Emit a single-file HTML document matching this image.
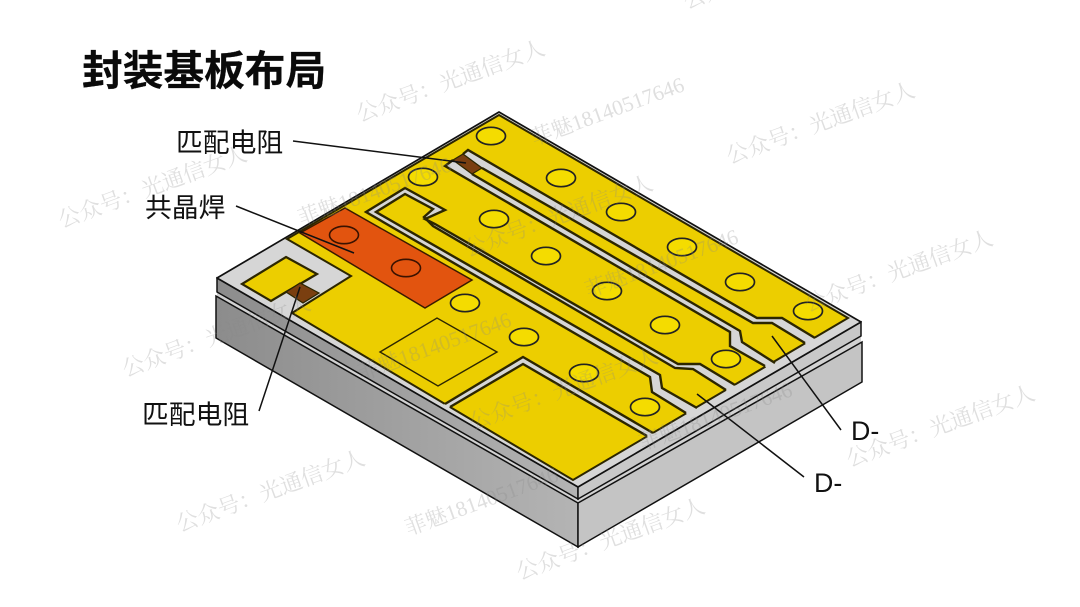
<!DOCTYPE html>
<html lang="zh">
<head>
<meta charset="utf-8">
<style>
html,body{margin:0;padding:0;background:#fff;width:1080px;height:607px;overflow:hidden}
svg{display:block;filter:blur(.35px)}
.lb{font-family:"Liberation Sans","Noto Sans CJK SC",sans-serif;font-size:26.8px;fill:#111}
.wm{font-family:"Liberation Serif","Noto Serif CJK SC",serif;fill:#8a8a8a;fill-opacity:.27;text-anchor:middle}
.c{fill:#f4dc00;stroke:#222;stroke-width:1.7}
.s{fill:none;stroke:#2c2600;stroke-width:2.4;stroke-linejoin:miter}
.g{fill:#d6d6d6;stroke:none}
.l{stroke:#111;stroke-width:1.5;fill:none}
</style>
</head>
<body>
<svg width="1080" height="607" viewBox="0 0 1080 607" xmlns="http://www.w3.org/2000/svg">
<defs>
<linearGradient id="lf" x1="216" y1="0" x2="578" y2="0" gradientUnits="userSpaceOnUse">
<stop offset="0" stop-color="#8c8c8c"/><stop offset="1" stop-color="#b4b4b4"/>
</linearGradient>
</defs>

<!-- gap between layers -->
<polygon points="217,290 578,497 861,334 861,344 578,505 217,298" fill="#d2d2d2"/>
<!-- lower block -->
<polygon points="216,296 578,503 578,547 216,338" fill="url(#lf)" stroke="#111" stroke-width="1.5"/>
<polygon points="578,503 862,342 862,382 578,547" fill="#c4c4c4" stroke="#111" stroke-width="1.5"/>
<!-- upper plate sides -->
<polygon points="217,278 578,487 578,499 217,292" fill="url(#lf)" stroke="#111" stroke-width="1.5"/>
<polygon points="578,487 861,322 861,336 578,499" fill="#c8c8c8" stroke="#111" stroke-width="1.5"/>
<!-- plate top -->
<polygon points="217,278 499,112 861,322 578,487" fill="#d6d6d6" stroke="#111" stroke-width="1.7" stroke-linejoin="round"/>

<!-- small pad -->
<polygon points="286,257 317,274 300,284 286,292 271,301 242,284" fill="#ecce00" stroke="#2c2600" stroke-width="2.2"/>
<polygon points="286,292 300,283 319,293 303,303" fill="#7a3f10" stroke="#2c2600" stroke-width="1.2"/>

<!-- gold -->
<polygon points="287,239 499,115 848,318 573,480 450,407 445,404 292,313 351,276" fill="#ecce00" stroke="#2c2600" stroke-width="2"/>

<!-- slot 1 -->
<polygon class="g" points="468,150 757,318 782,318 815,338 817,341 807,346 805,343 772,323 753,323 482,168 463,154"/>
<path class="s" d="M463,154 L468,150 L757,318 L782,318 L815,338"/>
<path class="s" d="M482,168 L753,323 L772,323 L805,343"/>
<!-- slot 1b -->
<polygon class="g" points="445,166 453,160 472,174 740,331 742,342 775,363 767,369 765,366 730,346 730,332"/>
<path class="s" d="M453,160 L445,166 L730,332 L730,346 L765,366"/>
<path class="s" d="M472,174 L740,331 L742,342 L775,363"/>
<!-- resistor -->
<polygon points="453,160 463,154 482,168 472,174" fill="#7a3f10" stroke="#2c2600" stroke-width="1.2"/>

<!-- slot 2 ring -->
<polygon class="g" points="366,212 405,188 445,210 425,219 435,224 678,364 700,364 735,385 737,388 728,393 726,390 693,369 675,368 433,226 424,217 433,209 405,194 376,212 660,375 662,388 697,408 699,411 688,416 686,413 652,392 650,377"/>
<path class="s" d="M686,413 L652,392 L650,377 L366,212 L405,188 L445,210 L425,219 L435,224 L678,364 L700,364 L735,385"/>
<path class="s" d="M726,390 L693,369 L675,368 L433,226 L424,217 L433,209 L405,194 L376,212 L660,375 L662,388 L697,408"/>

<!-- slot 3 around pad -->
<polygon class="g" points="445,404 523,357 653,433 655,436 649,439 647,436 523,364 450,407 447,409 442,406"/>
<path class="s" d="M445,404 L523,357 L653,433"/>
<path class="s" d="M450,407 L523,364 L647,436"/>

<!-- orange -->
<polygon points="345,208 472,280 425,308 300,233" fill="#e2540f" stroke="#3a1a00" stroke-width="1.5"/>
<ellipse cx="344" cy="235" rx="14.5" ry="8.7" fill="none" stroke="#3a1200" stroke-width="1.6"/>
<ellipse cx="406" cy="268" rx="14.5" ry="8.7" fill="none" stroke="#3a1200" stroke-width="1.6"/>

<!-- square -->
<polygon points="380,352 437,318 497,352 438,386" fill="#ecce00" stroke="#2c2600" stroke-width="1.4"/>

<!-- circles -->
<ellipse class="c" cx="491" cy="136" rx="14.5" ry="8.7"/>
<ellipse class="c" cx="561" cy="178" rx="14.5" ry="8.7"/>
<ellipse class="c" cx="621" cy="212" rx="14.5" ry="8.7"/>
<ellipse class="c" cx="682" cy="247" rx="14.5" ry="8.7"/>
<ellipse class="c" cx="740" cy="282" rx="14.5" ry="8.7"/>
<ellipse class="c" cx="808" cy="311" rx="14.5" ry="8.7"/>
<ellipse class="c" cx="423" cy="177" rx="14.5" ry="8.7"/>
<ellipse class="c" cx="494" cy="219" rx="14.5" ry="8.7"/>
<ellipse class="c" cx="546" cy="256" rx="14.5" ry="8.7"/>
<ellipse class="c" cx="607" cy="291" rx="14.5" ry="8.7"/>
<ellipse class="c" cx="665" cy="325" rx="14.5" ry="8.7"/>
<ellipse class="c" cx="726" cy="359" rx="14.5" ry="8.7"/>
<ellipse class="c" cx="465" cy="303" rx="14.5" ry="8.7"/>
<ellipse class="c" cx="524" cy="337" rx="14.5" ry="8.7"/>
<ellipse class="c" cx="584" cy="373" rx="14.5" ry="8.7"/>
<ellipse class="c" cx="645" cy="407" rx="14.5" ry="8.7"/>

<!-- leader lines -->
<line class="l" x1="293" y1="141" x2="466" y2="163"/>
<line class="l" x1="236" y1="206" x2="354" y2="253"/>
<line class="l" x1="259" y1="411" x2="300" y2="287"/>
<line class="l" x1="772" y1="336" x2="841" y2="430"/>
<line class="l" x1="697" y1="394" x2="804" y2="477"/>

<!-- text -->
<text x="82" y="85" font-family="'Liberation Sans','Noto Sans CJK SC',sans-serif" font-size="40.7" font-weight="700" fill="#0a0a0a" stroke="#0a0a0a" stroke-width=".25">封装基板布局</text>
<text class="lb" x="176" y="152">匹配电阻</text>
<text class="lb" x="145" y="217">共晶焊</text>
<text class="lb" x="142" y="424">匹配电阻</text>
<text class="lb" x="851" y="440">D-</text>
<text class="lb" x="814" y="492">D-</text>

<!-- watermarks -->
<g font-size="22.1">
<text class="wm" transform="translate(453,88) rotate(-20)">公众号：光通信女人</text>
<text class="wm" transform="translate(823,130) rotate(-20)">公众号：光通信女人</text>
<text class="wm" transform="translate(155,194) rotate(-20)">公众号：光通信女人</text>
<text class="wm" transform="translate(561,223) rotate(-20)">公众号：光通信女人</text>
<text class="wm" transform="translate(901,278) rotate(-20)">公众号：光通信女人</text>
<text class="wm" transform="translate(219,343) rotate(-20)">公众号：光通信女人</text>
<text class="wm" transform="translate(566,396) rotate(-20)">公众号：光通信女人</text>
<text class="wm" transform="translate(943,433) rotate(-20)">公众号：光通信女人</text>
<text class="wm" transform="translate(273,498) rotate(-20)">公众号：光通信女人</text>
<text class="wm" transform="translate(613,546) rotate(-20)">公众号：光通信女人</text>
<text class="wm" transform="translate(780,-25) rotate(-20)">公众号：光通信女人</text>
</g>
<g font-size="21.5">
<text class="wm" transform="translate(610,118) rotate(-20)">菲魅18140517646</text>
<text class="wm" transform="translate(377,198) rotate(-20)">菲魅18140517646</text>
<text class="wm" transform="translate(664,270) rotate(-20)">菲魅18140517646</text>
<text class="wm" transform="translate(437,353) rotate(-20)">菲魅18140517646</text>
<text class="wm" transform="translate(718,423) rotate(-20)">菲魅18140517646</text>
<text class="wm" transform="translate(484,508) rotate(-20)">菲魅18140517646</text>
</g>
</svg>
</body>
</html>
